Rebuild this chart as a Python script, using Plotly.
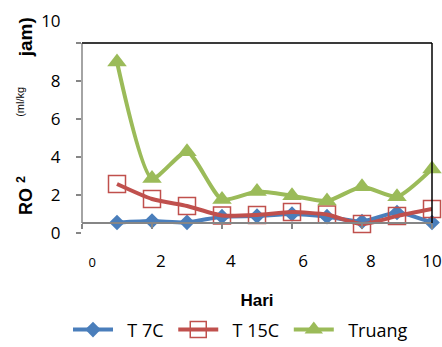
import plotly.graph_objects as go

hari = [1, 2, 3, 4, 5, 6, 7, 8, 9, 10]
t7c = [0.55, 0.63, 0.56, 0.86, 0.89, 1.0, 0.86, 0.6, 1.08, 0.55]
t15c = [2.58, 1.79, 1.42, 0.92, 0.95, 1.1, 0.97, 0.47, 0.89, 1.26]
truang = [9.0, 2.87, 4.28, 1.76, 2.18, 1.96, 1.68, 2.44, 1.91, 3.37]
series_names = ["T 7C", "T 15C", "Truang"]

nb = "\u00a0"
x_tickvals = [0, 2, 4, 6, 8, 10]
x_ticktext = ["<span style='font-size:13px'>" + nb * 6 + "0</span>",
              nb * 4 + "2", nb * 4 + "4", nb * 5 + "6", nb * 4 + "8", "10"]
y_tickvals = [0, 2, 4, 6, 8, 10]
y_ticktext = ["0", "2", "4", "6", "8", "10<br>" + nb + "<br>" + nb]

BLUE = "#4A7EBB"
RED = "#C0504D"
GREEN = "#9BBB59"
AXIS = "#868686"
DARK = "#3A3A3A"

fig = go.Figure()
fig.add_trace(go.Scatter(
    x=hari, y=t7c, name=nb * 2 + series_names[0] + nb, mode="lines+markers", cliponaxis=False,
    line=dict(color=BLUE, width=4, shape="spline", smoothing=0.6),
    marker=dict(symbol="diamond", size=12, color=BLUE),
))
fig.add_trace(go.Scatter(
    x=hari, y=t15c, name=nb * 2 + series_names[1] + nb, mode="lines+markers", cliponaxis=False,
    line=dict(color=RED, width=4, shape="spline", smoothing=0.6),
    marker=dict(symbol="square-open", size=17, color=RED, line=dict(color=RED, width=1.5)),
))
fig.add_trace(go.Scatter(
    x=hari, y=truang, name=nb * 2 + series_names[2], mode="lines+markers", cliponaxis=False,
    line=dict(color=GREEN, width=4, shape="spline", smoothing=0.6),
    marker=dict(symbol="triangle-up", size=17, color=GREEN),
))

pos = 10 / 190
TFONT = "Liberation Sans, Arial, sans-serif"

fig.update_layout(
    width=442, height=347,
    margin=dict(l=82, r=10, t=43, b=114, autoexpand=False),
    paper_bgcolor="white", plot_bgcolor="white",
    font=dict(family="Open Sans, Noto Sans, sans-serif", color="black"),
    showlegend=True,
    legend=dict(orientation="h", x=-0.04, xanchor="left", y=-0.51, yanchor="middle",
                font=dict(size=18), itemwidth=40),
    xaxis=dict(
        range=[0, 10], anchor="free", position=pos, automargin=False,
        tickvals=x_tickvals, ticktext=x_ticktext,
        ticks="outside", ticklen=5, tickcolor=AXIS, tickwidth=1.5,
        showline=True, linecolor=AXIS, linewidth=1.5,
        showgrid=False, zeroline=False,
        tickfont=dict(size=17),
        ticklabelstandoff=18, ticklabeloverflow="allow",
        title=dict(text="<b>Hari</b>", font=dict(size=17, family=TFONT), standoff=22),
    ),
    yaxis=dict(
        range=[0, 10], automargin=False,
        tickvals=y_tickvals, ticktext=y_ticktext,
        ticks="outside", ticklen=5, tickcolor=AXIS, tickwidth=1.5,
        showline=False, showgrid=False, zeroline=False,
        tickfont=dict(size=17),
        ticklabelstandoff=12, ticklabeloverflow="allow",
    ),
    annotations=[
        dict(text="<b>RO <sup>2</sup></b>", xref="paper", yref="paper", x=-0.163, y=0.2,
             xanchor="center", yanchor="middle", textangle=-90, showarrow=False,
             font=dict(size=18, family=TFONT)),
        dict(text="(ml/kg", xref="paper", yref="paper", x=-0.179, y=0.692,
             xanchor="center", yanchor="middle", textangle=-90, showarrow=False,
             font=dict(size=11, family=TFONT)),
        dict(text="<b>jam)</b>", xref="paper", yref="paper", x=-0.163, y=1.03,
             xanchor="center", yanchor="middle", textangle=-90, showarrow=False,
             font=dict(size=19, family=TFONT)),
    ],
    shapes=[
        dict(type="line", xref="x domain", yref="y domain", x0=0, x1=0, y0=pos, y1=1,
             line=dict(color=AXIS, width=1.5)),
        dict(type="line", xref="x domain", yref="y domain", x0=0, x1=1, y0=1, y1=1,
             line=dict(color=DARK, width=2)),
        dict(type="line", xref="x domain", yref="y domain", x0=1, x1=1, y0=pos, y1=1,
             line=dict(color="black", width=1.5)),
    ],
)

fig.write_html("out.html")
